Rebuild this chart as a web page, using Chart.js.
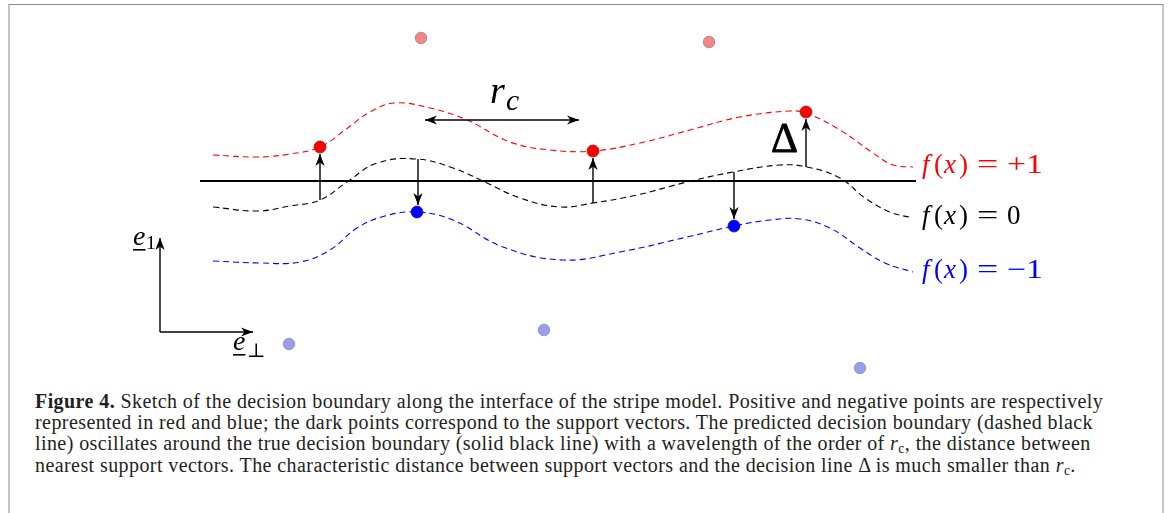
<!DOCTYPE html>
<html>
<head>
<meta charset="utf-8">
<script src="https://cdn.jsdelivr.net/npm/chart.js@4.4.1/dist/chart.umd.min.js"></script>
<style>
  html, body { margin: 0; padding: 0; background: #fff; }
  body { width: 1171px; height: 513px; position: relative; overflow: hidden; }
  #frame {
    position: absolute; left: 8px; top: 4px; width: 1152px; height: 600px;
    border-top: 1px solid #8a8a8a; border-left: 2px solid #c4c4c4; border-right: 2px solid #c4c4c4;
  }
  #sketch { position: absolute; left: 0; top: 0; }
  #caption {
    position: absolute; left: 35px; top: 390.5px;
    font-family: "Liberation Serif", "DejaVu Serif", serif; font-size: 20px; line-height: 21.4px;
    letter-spacing: 0.42px; color: #231f20; white-space: nowrap;
  }
  #caption sub { font-size: 0.68em; vertical-align: -0.2em; line-height: 0; }
</style>
</head>
<body>
<div id="frame"></div>
<canvas id="sketch" width="1171" height="390"></canvas>
<div id="caption">
<b>Figure 4.</b> Sketch of the decision boundary along the interface of the stripe model. Positive and negative points are respectively<br>
represented in red and blue; the dark points correspond to the support vectors. The predicted decision boundary (dashed black<br>
line) oscillates around the true decision boundary (solid black line) with a wavelength of the order of <i>r</i><sub>c</sub>, the distance between<br>
nearest support vectors. The characteristic distance between support vectors and the decision line Δ is much smaller than <i>r</i><sub>c</sub>.
</div>
<script>
// sketch coordinates: x along the interface, y = height above the true boundary
const curveX = [213, 257, 290, 320, 345, 370, 395, 430, 467, 510, 550, 593, 640, 690, 740, 790, 806, 840, 873, 893, 913];
const plusOne = [26, 24, 27, 34, 51, 69, 78, 73, 61, 39, 31, 30, 38, 51, 64, 70, 68, 51, 28, 16, 14];

const zeroX = [213, 257, 290, 320, 347, 377, 417, 453, 487, 520, 560, 593, 637, 687, 733, 780, 807, 840, 865, 890, 913];
const zeroLevel = [-26, -30, -25, -19, -1, 18, 22, 13, -2, -17, -26, -22, -14, -1, 9, 16, 14, 3, -17, -31, -37];

const minusX = [213, 260, 300, 330, 357, 385, 417, 453, 503, 563, 620, 687, 734, 770, 800, 830, 860, 885, 913];
const minusOne = [-80, -82, -81, -69, -47, -35, -31, -39, -66, -79, -71, -56, -45, -39, -38, -47, -67, -82, -91];

const trueBoundaryX = [200, 916];

const supportPos = [[320, 34], [593, 30], [806, 69]];
const supportNeg = [[417, -31], [734, -45]];
const otherPos = [[421, 143], [709, 139]];
const otherNeg = [[289, -163], [544, -149], [860, -187]];

// arrows: [x0, y0, x1, y1]
const marginArrows = [
  [320, -19, 320, 27],
  [418, 22, 418, -24],
  [593, -22, 593, 23],
  [734, 9, 734, -38],
  [806, 14, 806, 62]
];
const rcArrow = [425, 61, 579, 61];
const basisArrows = [[160, -151, 160, -57], [160, -151, 253, -151]];

const levelLabels = ['+1', '0', '\u22121'];
const levelColors = ['#ff0000', '#000000', '#0000ff'];

function pts(xs, ys) {
  return xs.map((x, i) => ({ x: x, y: ys[i] }));
}
function pairs(arr) {
  return arr.map(p => ({ x: p[0], y: p[1] }));
}

const datasets = [];

// dots on top
datasets.push({ data: pairs(supportPos), pointRadius: 6, backgroundColor: '#ff0000', borderColor: '#a31515', borderWidth: 0.8, order: 0 });
datasets.push({ data: pairs(supportNeg), pointRadius: 6, backgroundColor: '#0000ff', borderColor: '#1a1a9a', borderWidth: 0.8, order: 0 });
datasets.push({ data: pairs(otherPos), pointRadius: 5.8, backgroundColor: '#f58585', borderColor: '#a89090', borderWidth: 1, order: 0 });
datasets.push({ data: pairs(otherNeg), pointRadius: 5.8, backgroundColor: '#9c9cf0', borderColor: '#9a9ab0', borderWidth: 1, order: 0 });

// level curves
[[curveX, plusOne, '#ff0000'], [zeroX, zeroLevel, '#000000'], [minusX, minusOne, '#0000ff']].forEach(c => {
  datasets.push({
    data: pts(c[0], c[1]), showLine: true, pointRadius: 0, borderColor: c[2], borderWidth: 1.1,
    borderDash: [6, 4], tension: 0.4, order: 3
  });
});

// true decision boundary
datasets.push({
  data: pts(trueBoundaryX, [0, 0]), showLine: true, pointRadius: 0, borderColor: '#000', borderWidth: 2, order: 2
});

// arrow shafts
marginArrows.concat(basisArrows).forEach(a => {
  datasets.push({
    data: [{ x: a[0], y: a[1] }, { x: a[2], y: a[3] }], showLine: true, pointRadius: 0,
    borderColor: '#000', borderWidth: 1.4, order: 1, arrow: 'end'
  });
});
datasets.push({
  data: [{ x: rcArrow[0], y: rcArrow[1] }, { x: rcArrow[2], y: rcArrow[3] }], showLine: true, pointRadius: 0,
  borderColor: '#000', borderWidth: 1.4, order: 1, arrow: 'both'
});

function drawHead(ctx, from, to) {
  const ang = Math.atan2(to.y - from.y, to.x - from.x);
  const len = 12, half = 4.6, notch = 3.5;
  ctx.save();
  ctx.translate(to.x, to.y);
  ctx.rotate(ang);
  ctx.beginPath();
  ctx.moveTo(0, 0);
  ctx.lineTo(-len, -half);
  ctx.lineTo(-len + notch, 0);
  ctx.lineTo(-len, half);
  ctx.closePath();
  ctx.fillStyle = '#000';
  ctx.fill();
  ctx.restore();
}

// parts: t text, i italic, s size factor, dx offset from start, dy, u underline, sx horizontal stretch
function drawMath(ctx, parts, x, y, size, color) {
  ctx.fillStyle = color;
  ctx.textBaseline = 'alphabetic';
  ctx.textAlign = 'left';
  parts.forEach(p => {
    const s = size * (p.s || 1);
    ctx.font = (p.i ? 'italic ' : '') + s + 'px "Liberation Serif", "DejaVu Serif", serif';
    const px = x + p.dx, py = y + (p.dy || 0);
    const w = ctx.measureText(p.t).width * (p.sx || 1);
    ctx.save();
    ctx.translate(px, py);
    ctx.scale(p.sx || 1, 1);
    ctx.fillText(p.t, 0, 0);
    ctx.restore();
    if (p.u) ctx.fillRect(px, y + 4, w, 1.6);
  });
}

const sketchPlugin = {
  id: 'sketch',
  afterDatasetsDraw(chart) {
    const ctx = chart.ctx;
    const xs = chart.scales.x, ys = chart.scales.y;
    chart.data.datasets.forEach((ds, i) => {
      if (!ds.arrow) return;
      const m = chart.getDatasetMeta(i).data;
      drawHead(ctx, m[0], m[1]);
      if (ds.arrow === 'both') drawHead(ctx, m[1], m[0]);
    });

    // right-hand level labels, anchored at the curve ends
    const ends = [plusOne[plusOne.length - 1], zeroLevel[zeroLevel.length - 1], minusOne[minusOne.length - 1]];
    const lx = xs.getPixelForValue(curveX[curveX.length - 1]) + 9;
    ends.forEach((v, k) => {
      const py = ys.getPixelForValue(v) + 5.5;
      drawMath(ctx, [
        { t: 'f', i: true, dx: 0 }, { t: '(', dx: 12 }, { t: 'x', i: true, dx: 22 }, { t: ')', dx: 37 },
        { t: '=', dx: 55, sx: 1.4 }, { t: levelLabels[k], dx: 85, sx: k === 1 ? 1 : 1.25 }
      ], lx, py, 27, levelColors[k]);
    });

    // r_c
    const rx = (xs.getPixelForValue(rcArrow[0]) + xs.getPixelForValue(rcArrow[2])) / 2 - 12;
    const ry = ys.getPixelForValue(rcArrow[1]) - 17;
    drawMath(ctx, [{ t: 'r', i: true, dx: 0 }, { t: 'c', i: true, s: 0.78, dx: 16, dy: 7 }], rx, ry, 38, '#000');

    // Delta
    const dArrow = marginArrows[4];
    ctx.font = '42px "Liberation Serif", "DejaVu Serif", serif';
    ctx.fillStyle = '#000';
    ctx.textAlign = 'right';
    ctx.strokeStyle = '#000';
    ctx.lineWidth = 0.8;
    const dx = xs.getPixelForValue(dArrow[0]) - 8, dy = ys.getPixelForValue(dArrow[1]) - 15;
    ctx.fillText('\u0394', dx, dy);
    ctx.strokeText('\u0394', dx, dy);
    ctx.textAlign = 'left';

    // basis vectors
    const b1 = basisArrows[0], b2 = basisArrows[1];
    drawMath(ctx, [{ t: 'e', i: true, u: true, dx: 0 }, { t: '1', s: 0.7, dx: 13, dy: 4 }],
      xs.getPixelForValue(b1[2]) - 27, ys.getPixelForValue(b1[3]) + 7, 28, '#000');
    drawMath(ctx, [{ t: 'e', i: true, u: true, dx: 0 }, { t: '\u22a5', s: 0.7, dx: 14, dy: 7 }],
      xs.getPixelForValue(b2[2]) - 20, ys.getPixelForValue(b2[3]) + 18, 28, '#000');
  }
};

new Chart(document.getElementById('sketch').getContext('2d'), {
  type: 'scatter',
  data: { datasets },
  options: {
    responsive: false,
    animation: false,
    devicePixelRatio: 1,
    layout: { padding: 0, autoPadding: false },
    plugins: { legend: { display: false }, tooltip: { enabled: false } },
    scales: {
      x: { display: false, min: 0, max: 1171 },
      y: { display: false, min: -209, max: 181 }
    }
  },
  plugins: [sketchPlugin]
});
</script>
</body>
</html>
